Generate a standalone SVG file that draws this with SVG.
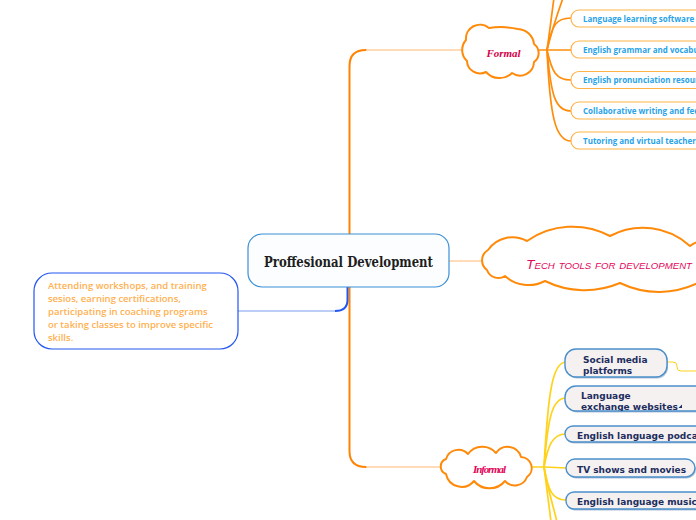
<svg xmlns="http://www.w3.org/2000/svg" width="696" height="520" viewBox="0 0 696 520">
<style>
.trunk{fill:none;stroke:#ff8300;stroke-width:2;stroke-linecap:round}
.light{fill:none;stroke:#ffcf9f;stroke-width:1.4}
.orn{fill:none;stroke:#ff8c0a;stroke-width:1.7;stroke-linecap:round}
.yel{fill:none;stroke:#ffd21a;stroke-width:1.7;stroke-linecap:round}
.cloud{fill:#fff;stroke:#ff8a0a;stroke-width:2;stroke-linejoin:round}
.fnode{fill:#fff;stroke:#ffb347;stroke-width:1.2}
.ftxt{font-family:"Open Sans","Noto Sans",sans-serif;font-weight:700;font-size:8px;fill:#2aa3e8}
.inode{fill:#f5f1f0;stroke:#4b8fcb;stroke-width:1.4}
.ishadow{fill:#8fa9c6;opacity:0.7}
.itxt{font-family:"DejaVu Sans",sans-serif;font-weight:700;font-size:9px;fill:#1c2d5e}
</style>
<defs>
<clipPath id="clipLang"><rect x="565" y="386" width="200" height="25" rx="11"/></clipPath>
<clipPath id="clipPod"><rect x="565" y="426" width="200" height="16" rx="8"/></clipPath>
</defs>
<rect width="696" height="520" fill="#fff"/>

<g id="connectors">
  <path class="trunk" d="M349.5,234 V66 Q349.5,50 366,50"/>
  <path class="light" d="M366,50 H462"/>
  <path class="trunk" d="M349.5,287 V451 Q349.5,467 366,467"/>
  <path class="light" d="M366,467 H441"/>
  <path class="light" d="M449,261 H484"/>
  <path fill="none" stroke="#2456f0" stroke-width="2" d="M347.5,287 V300 Q347.5,311 335,311"/>
  <path fill="none" stroke="#7b9cee" stroke-width="1.1" d="M335,311 H238"/>
  <path class="orn" d="M539,50 H571"/>
  <path class="orn" d="M547,50 C552,25 556,18 571,18"/>
  <path class="orn" d="M547,50 C552,72 556,80 571,80"/>
  <path class="orn" d="M547,50 C551,95 555,111 571,111"/>
  <path class="orn" d="M547,50 C550,115 555,141 571,141"/>
  <path class="orn" d="M547,50 C550,30 552,12 554,-2"/>
  <path class="orn" d="M547,50 C552,30 558,12 563,-2"/>
  <path class="yel" d="M533,467 H545 L566,468"/>
  <path class="yel" d="M544,467 C548,395 552,362 566,362"/>
  <path class="yel" d="M544,467 C548,418 552,398 566,398"/>
  <path class="yel" d="M544,467 C548,446 552,434 566,434"/>
  <path class="yel" d="M544,467 C548,490 552,500 566,500"/>
  <path class="yel" d="M544,467 C547,490 549,505 551,522"/>
  <path class="yel" d="M544,467 C548,490 553,505 557,522"/>
  <path fill="none" stroke="#ffd21a" stroke-width="1" d="M667,362 H673 Q677,362 677,366 V367 Q677,371 681,371 H700"/>
</g>

<g id="central">
  <rect x="248" y="234" width="201" height="53" rx="14" fill="#fbfdfe" stroke="#3b8fd6" stroke-width="1.2"/>
  <text x="348.5" y="266.5" text-anchor="middle" font-family="DejaVu Serif,serif" font-weight="700" font-size="14" fill="#1e1e1e" textLength="169" lengthAdjust="spacingAndGlyphs">Proffesional Development</text>
</g>

<g id="left-note">
  <rect x="34" y="273" width="204" height="76" rx="18" fill="#fff" stroke="#2456f0" stroke-width="1.2"/>
  <g font-family="Open Sans,Noto Sans,sans-serif" font-weight="600" font-size="9.5" fill="#ffb050">
    <text x="48" y="289">Attending workshops, and training</text>
    <text x="48" y="302">sesios, earning certifications,</text>
    <text x="48" y="315">participating in coaching programs</text>
    <text x="48" y="328">or taking classes to improve specific</text>
    <text x="48" y="341">skills.</text>
  </g>
</g>

<g id="formal">
  <path class="cloud" d="M467,61 A15,15 0 0 1 466,40 A14,14 0 0 1 489,28 A80,80 0 0 1 518,29 A17,17 0 0 1 534,44 A11,11 0 0 1 534,62 A14,14 0 0 1 512,73 A18,18 0 0 1 486,72 A13,13 0 0 1 467,61 Z"/>
  <text x="503.5" y="57" text-anchor="middle" font-family="Liberation Serif,serif" font-style="italic" font-weight="700" font-size="11" fill="#d4004a">Formal</text>
</g>

<g id="formal-1"><rect class="fnode" x="571" y="10" width="200" height="17" rx="8"/><text class="ftxt" x="583" y="21.5">Language learning software</text></g>
<g id="formal-2"><rect class="fnode" x="571" y="41" width="200" height="17" rx="8"/><text class="ftxt" x="583" y="52.5">English grammar and vocabulary</text></g>
<g id="formal-3"><rect class="fnode" x="571" y="71.5" width="200" height="17" rx="8"/><text class="ftxt" x="583" y="83">English pronunciation resources</text></g>
<g id="formal-4"><rect class="fnode" x="571" y="102" width="200" height="17" rx="8"/><text class="ftxt" x="583" y="113.5">Collaborative writing and feedback</text></g>
<g id="formal-5"><rect class="fnode" x="571" y="132" width="200" height="17" rx="8"/><text class="ftxt" x="583" y="143.5">Tutoring and virtual teachers</text></g>

<g id="tech">
  <path class="cloud" d="M487,270 A12,12 0 0 1 488,250 A30,30 0 0 1 527,241 A80,80 0 0 1 610,236 A70,70 0 0 1 690,246 A25,25 0 0 1 730,270 A25,25 0 0 1 700,282 A90,90 0 0 1 620,283 A90,90 0 0 1 545,281 A35,35 0 0 1 505,276 A12,12 0 0 1 487,270 Z"/>
  <text x="526" y="268.5" font-family="Liberation Sans,sans-serif" font-style="italic" font-variant="small-caps" font-size="13" fill="#e3065a" textLength="166" lengthAdjust="spacingAndGlyphs">Tech tools for development</text>
</g>

<g id="informal">
  <path class="cloud" d="M446,474 A8,8 0 0 1 446,459 A13,13 0 0 1 468,454 A18,18 0 0 1 496,453 A14,14 0 0 1 521,457 A11,11 0 0 1 527,477 A13,13 0 0 1 505,481 A20,20 0 0 1 474,481 A16,16 0 0 1 446,474 Z"/>
  <text x="489.5" y="473" text-anchor="middle" font-family="Liberation Serif,serif" font-style="italic" font-weight="700" font-size="11" fill="#e3065a" textLength="33">Informal</text>
</g>

<g id="informal-1">
  <rect class="ishadow" x="566" y="350.5" width="102" height="28" rx="11"/>
  <rect class="inode" x="565" y="349" width="102" height="28" rx="11"/>
  <text class="itxt" x="583" y="362.5">Social media</text>
  <text class="itxt" x="583" y="373.5">platforms</text>
</g>
<g id="informal-2">
  <rect class="ishadow" x="566" y="387.5" width="200" height="25" rx="11"/>
  <rect class="inode" x="565" y="386" width="200" height="25" rx="11"/>
  <g clip-path="url(#clipLang)">
    <text class="itxt" x="581" y="398.5">Language</text>
    <text class="itxt" x="581" y="410">exchange websites</text>
  </g>
  <polygon points="678.5,408 682,408 682,404.5" fill="#1c2d5e"/>
</g>
<g id="informal-3">
  <rect class="ishadow" x="566" y="427.5" width="200" height="16" rx="8"/>
  <rect class="inode" x="565" y="426" width="200" height="16" rx="8"/>
  <g clip-path="url(#clipPod)"><text class="itxt" x="577" y="438.5">English language podcasts</text></g>
</g>
<g id="informal-4">
  <rect class="ishadow" x="567" y="460.5" width="129" height="18" rx="9"/>
  <rect class="inode" x="566" y="459" width="129" height="18" rx="9"/>
  <text class="itxt" x="577" y="472.5">TV shows and movies</text>
</g>
<g id="informal-5">
  <rect class="ishadow" x="567" y="493.5" width="200" height="17" rx="8"/>
  <rect class="inode" x="566" y="492" width="200" height="17" rx="8"/>
  <text class="itxt" x="577" y="504.5">English language music</text>
</g>
</svg>
